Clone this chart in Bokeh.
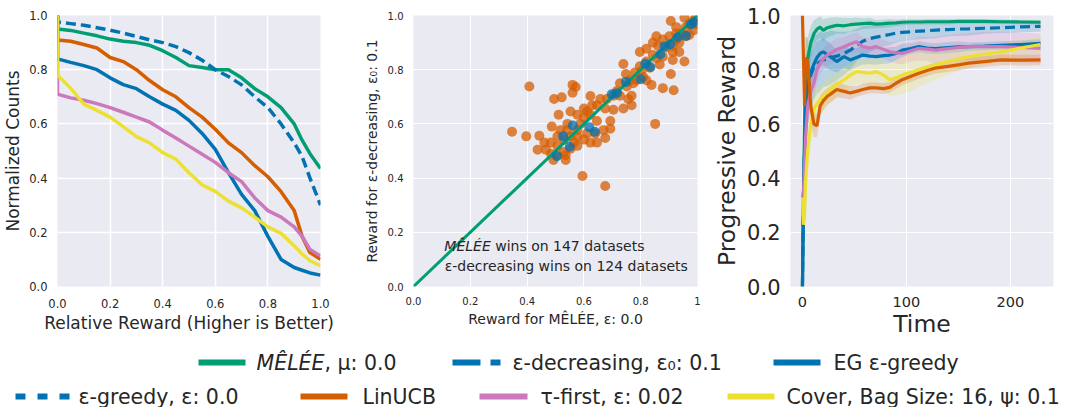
from bokeh.plotting import figure
from bokeh.layouts import column, row
from bokeh.models import FixedTicker, PrintfTickFormatter, Label, Range1d
from bokeh.embed import file_html
from bokeh.resources import INLINE

GREEN = "#029e73"; BLUE = "#0173b2"; ORANGE = "#d55e00"; PINK = "#cc78bc"; YELLOW = "#ece133"
BG = "#eaeaf2"; TXT = "#262626"; FONT = "DejaVu Sans"

# ---------------- Panel 1 data: normalized counts vs relative reward ----------------
rel_reward = [0.0, 0.0, 0.05, 0.1, 0.15, 0.2, 0.25, 0.3, 0.35, 0.4, 0.45, 0.5, 0.55,
              0.6, 0.65, 0.7, 0.75, 0.8, 0.85, 0.9, 0.93, 0.96, 1.0]
cnt_melee = [1.0, 0.95, 0.945, 0.935, 0.925, 0.913, 0.905, 0.90, 0.89, 0.87, 0.845, 0.815, 0.808,
             0.80, 0.80, 0.77, 0.73, 0.70, 0.66, 0.60, 0.54, 0.49, 0.435]
cnt_decr = [1.0, 0.976, 0.97, 0.964, 0.955, 0.946, 0.935, 0.923, 0.91, 0.90, 0.885, 0.863, 0.835,
            0.80, 0.775, 0.744, 0.70, 0.66, 0.60, 0.53, 0.48, 0.40, 0.30]
cnt_linucb = [1.0, 0.91, 0.905, 0.893, 0.88, 0.845, 0.83, 0.80, 0.76, 0.726, 0.70, 0.66, 0.625,
              0.58, 0.53, 0.494, 0.446, 0.405, 0.35, 0.28, 0.185, 0.125, 0.10]
cnt_eg = [1.0, 0.84, 0.827, 0.815, 0.80, 0.77, 0.745, 0.73, 0.70, 0.673, 0.65, 0.613, 0.565,
          0.506, 0.42, 0.34, 0.28, 0.185, 0.10, 0.07, 0.06, 0.05, 0.042]
cnt_tau = [1.0, 0.71, 0.696, 0.687, 0.675, 0.66, 0.643, 0.625, 0.607, 0.577, 0.548, 0.518, 0.488,
           0.458, 0.42, 0.387, 0.327, 0.28, 0.256, 0.22, 0.185, 0.137, 0.113]
cnt_cover = [1.0, 0.78, 0.732, 0.673, 0.65, 0.625, 0.59, 0.553, 0.53, 0.494, 0.47, 0.42, 0.375,
             0.351, 0.315, 0.29, 0.256, 0.22, 0.196, 0.15, 0.12, 0.095, 0.077]

# ---------------- Panel 2 data: per-dataset rewards ----------------
orange_x = [0.408, 0.347, 0.397, 0.443, 0.437, 0.466, 0.487, 0.495, 0.522, 0.511, 0.493, 0.536, 0.536,
            0.560, 0.571, 0.560, 0.595, 0.675, 0.851, 0.739, 0.748, 0.768, 0.768, 0.704, 0.739, 0.681,
            0.675, 0.693, 0.693, 0.669, 0.675, 0.623, 0.629, 0.611, 0.878, 0.916, 0.906, 0.913, 0.954,
            0.855, 0.906, 0.936, 0.803, 0.838, 0.785, 0.809, 0.832, 0.867, 0.878, 0.890, 0.925, 0.942,
            0.959, 0.983, 0.994, 0.988, 0.971, 0.925, 0.913, 0.861, 0.843, 0.820, 0.797, 0.780, 0.762,
            0.751, 0.727, 0.716, 0.704, 0.727, 0.756, 0.658, 0.646, 0.623, 0.600, 0.588, 0.577, 0.553,
            0.565, 0.577, 0.600, 0.623, 0.640, 0.611, 0.530, 0.507, 0.518, 0.542, 0.553, 0.577, 0.600,
            0.646, 0.646, 0.507, 0.530, 0.553, 0.577, 0.542, 0.484, 0.461, 0.484, 0.507, 0.797, 0.820,
            0.843, 0.878, 0.901, 0.925, 0.959, 0.971, 0.954, 0.994, 0.820, 0.774, 0.855, 0.936, 0.913]
orange_y = [0.738, 0.571, 0.554, 0.556, 0.505, 0.505, 0.590, 0.692, 0.698, 0.634, 0.467, 0.467, 0.484,
            0.744, 0.736, 0.715, 0.408, 0.371, 0.600, 0.821, 0.784, 0.704, 0.669, 0.652, 0.657, 0.692,
            0.657, 0.611, 0.582, 0.577, 0.548, 0.703, 0.669, 0.646, 0.732, 0.724, 0.784, 0.836, 0.830,
            0.923, 0.980, 0.865, 0.796, 0.744, 0.761, 0.773, 0.807, 0.819, 0.848, 0.882, 0.911, 0.934,
            0.957, 0.980, 0.969, 0.946, 0.928, 0.957, 0.888, 0.888, 0.854, 0.830, 0.813, 0.790, 0.761,
            0.738, 0.750, 0.721, 0.704, 0.704, 0.692, 0.692, 0.669, 0.634, 0.623, 0.600, 0.577, 0.554,
            0.531, 0.519, 0.542, 0.531, 0.565, 0.565, 0.542, 0.554, 0.577, 0.600, 0.646, 0.634, 0.657,
            0.611, 0.531, 0.519, 0.496, 0.508, 0.554, 0.577, 0.531, 0.531, 0.490, 0.484, 0.865, 0.877,
            0.900, 0.911, 0.923, 0.934, 0.923, 0.969, 0.992, 0.992, 0.761, 0.750, 0.842, 0.900, 0.865]
blue_x = [0.505, 0.527, 0.550, 0.561, 0.619, 0.638, 0.698, 0.716, 0.748, 0.800, 0.816, 0.834,
          0.869, 0.884, 0.904, 0.930, 0.959, 0.977, 0.988]
blue_y = [0.481, 0.554, 0.516, 0.594, 0.588, 0.571, 0.709, 0.713, 0.755, 0.765, 0.822, 0.810,
          0.856, 0.886, 0.894, 0.920, 0.925, 0.967, 0.975]
diag = [0.0, 1.0]

# ---------------- Panel 3 data: progressive reward over time ----------------
time = [0, 1, 2, 3, 5, 8, 11, 14, 17, 20, 24, 27, 33, 40, 46, 52, 58, 65, 71, 78, 84, 90, 96,
        104, 112, 120, 128, 140, 150, 160, 175, 191, 210, 229]
pr_melee = [0.0, 0.34, 0.6, 0.84, 0.84, 0.9, 0.933, 0.95, 0.957, 0.945, 0.955, 0.958, 0.964, 0.962,
            0.966, 0.968, 0.97, 0.972, 0.968, 0.97, 0.972, 0.973, 0.975, 0.976, 0.976, 0.977, 0.977,
            0.977, 0.978, 0.978, 0.978, 0.977, 0.976, 0.975]
pr_decr = [0.0, 0.33, 0.5, 0.6, 0.72, 0.78, 0.81, 0.82, 0.83, 0.836, 0.84, 0.845, 0.85, 0.86,
           0.872, 0.89, 0.905, 0.915, 0.92, 0.925, 0.93, 0.935, 0.938, 0.94, 0.942, 0.944, 0.946,
           0.948, 0.95, 0.951, 0.953, 0.955, 0.958, 0.96]
pr_eg = [0.0, 0.34, 0.5, 0.65, 0.75, 0.79, 0.82, 0.845, 0.86, 0.866, 0.855, 0.848, 0.83, 0.848,
         0.836, 0.845, 0.854, 0.85, 0.848, 0.852, 0.854, 0.86, 0.872, 0.878, 0.885, 0.88, 0.878,
         0.882, 0.884, 0.885, 0.887, 0.89, 0.893, 0.897]
pr_tau = [0.33, 0.35, 0.45, 0.55, 0.666, 0.72, 0.75, 0.8, 0.824, 0.84, 0.855, 0.86, 0.875, 0.885,
          0.895, 0.903, 0.885, 0.88, 0.885, 0.875, 0.866, 0.862, 0.86, 0.87, 0.879, 0.876, 0.872,
          0.878, 0.882, 0.885, 0.885, 0.885, 0.882, 0.879]
pr_cover = [0.33, 0.228, 0.26, 0.386, 0.5, 0.6, 0.654, 0.675, 0.69, 0.7, 0.715, 0.727, 0.745, 0.763,
            0.78, 0.793, 0.79, 0.787, 0.793, 0.78, 0.763, 0.77, 0.781, 0.79, 0.80, 0.81, 0.818,
            0.83, 0.84, 0.848, 0.857, 0.866, 0.88, 0.893]
pr_linucb = [1.0, 0.84, 0.666, 0.84, 0.836, 0.666, 0.6, 0.593, 0.666, 0.685, 0.702, 0.71, 0.727,
             0.72, 0.714, 0.72, 0.727, 0.733, 0.733, 0.73, 0.735, 0.75, 0.763, 0.775, 0.787, 0.797,
             0.806, 0.812, 0.818, 0.824, 0.83, 0.836, 0.835, 0.836]
sd_melee = [0, 0.1, 0.1, 0.08, 0.08, 0.06, 0.05, 0.04, 0.04, 0.04, 0.035, 0.035, 0.03, 0.03, 0.025,
            0.025, 0.02, 0.02, 0.015, 0.015, 0.015, 0.012, 0.012, 0.01, 0.01, 0.01, 0.01, 0.01,
            0.008, 0.008, 0.008, 0.008, 0.008, 0.008]
sd_decr = [0, 0.15, 0.15, 0.15, 0.12, 0.12, 0.12, 0.11, 0.11, 0.1, 0.1, 0.1, 0.09, 0.08, 0.07, 0.06,
           0.055, 0.05, 0.045, 0.04, 0.04, 0.035, 0.035, 0.03, 0.03, 0.03, 0.03, 0.025, 0.025, 0.025,
           0.02, 0.02, 0.02, 0.02]
sd_eg = [0, 0.15, 0.12, 0.1, 0.08, 0.07, 0.06, 0.06, 0.05, 0.05, 0.05, 0.05, 0.04, 0.04, 0.04, 0.035,
         0.035, 0.03, 0.03, 0.03, 0.03, 0.025, 0.025, 0.02, 0.02, 0.02, 0.02, 0.02, 0.02, 0.015,
         0.015, 0.015, 0.015, 0.015]
sd_tau = [0, 0.1, 0.1, 0.1, 0.08, 0.06, 0.05, 0.05, 0.04, 0.04, 0.04, 0.04, 0.04, 0.035, 0.035, 0.035,
          0.035, 0.035, 0.035, 0.035, 0.035, 0.04, 0.04, 0.04, 0.045, 0.045, 0.05, 0.05, 0.05, 0.05,
          0.055, 0.055, 0.055, 0.055]
sd_cover = [0, 0.1, 0.1, 0.1, 0.1, 0.08, 0.07, 0.06, 0.05, 0.05, 0.05, 0.05, 0.045, 0.045, 0.045,
            0.045, 0.045, 0.05, 0.05, 0.055, 0.06, 0.065, 0.07, 0.07, 0.065, 0.06, 0.055, 0.05,
            0.045, 0.04, 0.035, 0.03, 0.03, 0.03]
sd_linucb = [0, 0.15, 0.1, 0.08, 0.08, 0.06, 0.05, 0.04, 0.04, 0.035, 0.03, 0.03, 0.03, 0.025, 0.025,
             0.02, 0.02, 0.02, 0.02, 0.02, 0.02, 0.02, 0.02, 0.02, 0.02, 0.02, 0.02, 0.02, 0.02,
             0.02, 0.02, 0.02, 0.02, 0.02]

unit_ticks = [0, 0.2, 0.4, 0.6, 0.8, 1]
time_ticks = [0, 100, 200]


def style(p, tick_px, label_px, grid_w):
    p.background_fill_color = BG
    p.border_fill_color = "white"
    p.outline_line_color = None
    for ax in (p.xaxis, p.yaxis):
        ax.axis_line_color = None
        ax.major_tick_line_color = None
        ax.minor_tick_line_color = None
        ax.major_label_text_font = FONT
        ax.major_label_text_font_size = tick_px
        ax.major_label_text_color = TXT
        ax.axis_label_text_font = FONT
        ax.axis_label_text_font_size = label_px
        ax.axis_label_text_font_style = "normal"
        ax.axis_label_text_color = TXT
        ax.major_label_standoff = 4
        ax.axis_label_standoff = 3
    p.grid.grid_line_color = "white"
    p.grid.grid_line_width = grid_w


TOP_H = 340

# ---------- Panel 1 ----------
p1 = figure(width=360, height=TOP_H, x_range=Range1d(0, 1), y_range=Range1d(0, 1),
            output_backend="svg", toolbar_location=None,
            min_border_left=57, min_border_right=40, min_border_top=15, min_border_bottom=45)
style(p1, "11.5px", "17px", 1.5)
p1.xaxis.ticker = FixedTicker(ticks=unit_ticks)
p1.yaxis.ticker = FixedTicker(ticks=unit_ticks)
p1.xaxis.formatter = PrintfTickFormatter(format="%.1f")
p1.yaxis.formatter = PrintfTickFormatter(format="%.1f")
p1.xaxis.axis_label = "Relative Reward (Higher is Better)"
p1.yaxis.axis_label = "Normalized Counts"
p1.xaxis.major_label_standoff = 6
p1.xaxis.axis_label_standoff = 2
for ys, col, dash in [(cnt_melee, GREEN, "solid"), (cnt_decr, BLUE, "10 5"), (cnt_linucb, ORANGE, "solid"),
                      (cnt_eg, BLUE, "solid"), (cnt_tau, PINK, "solid"), (cnt_cover, YELLOW, "solid")]:
    p1.line(rel_reward, ys, line_color=col, line_width=3.5, line_dash=dash)

# ---------- Panel 2 ----------
p2 = figure(width=350, height=TOP_H, x_range=Range1d(0, 1), y_range=Range1d(0, 1),
            output_backend="svg", toolbar_location=None,
            min_border_left=49, min_border_right=13, min_border_top=11, min_border_bottom=40)
style(p2, "10px", "14px", 1.0)
p2.xaxis.ticker = FixedTicker(ticks=unit_ticks)
p2.yaxis.ticker = FixedTicker(ticks=unit_ticks)
p2.xaxis.formatter = PrintfTickFormatter(format="%.1f")
p2.yaxis.formatter = PrintfTickFormatter(format="%.1f")
p2.xaxis.major_label_overrides = {1: "1"}
p2.xaxis.axis_label = "Reward for MÊLÉE, ε: 0.0"
p2.yaxis.axis_label = "Reward for ε-decreasing, ε₀: 0.1"
p2.yaxis.axis_label_standoff = 5
p2.scatter(orange_x, orange_y, size=10, fill_color=ORANGE, fill_alpha=0.75, line_color=None)
p2.line(diag, diag, line_color=GREEN, line_width=3)
p2.scatter(blue_x, blue_y, size=10, fill_color=BLUE, fill_alpha=0.75, line_color=None)
p2.add_layout(Label(x=0.272, y=0.149, text="MÊLÉE", text_font=FONT, text_font_size="14px",
                    text_font_style="italic", text_align="right", text_baseline="middle", text_color=TXT))
p2.add_layout(Label(x=0.272, y=0.149, text="\u00a0wins on 147 datasets", text_font=FONT,
                    text_font_size="14px", text_align="left", text_baseline="middle", text_color=TXT))
p2.add_layout(Label(x=0.11, y=0.076, text="ε-decreasing wins on 124 datasets", text_font=FONT,
                    text_font_size="14px", text_align="left", text_baseline="middle", text_color=TXT))

# ---------- Panel 3 ----------
p3 = figure(width=362, height=TOP_H, x_range=Range1d(-11.5, 241.5), y_range=Range1d(0, 1),
            output_backend="svg", toolbar_location=None,
            min_border_left=77, min_border_right=19, min_border_top=15, min_border_bottom=51)
style(p3, "21px", "23.5px", 1.0)
p3.xaxis.major_label_text_font_size = "14.5px"
p3.xaxis.ticker = FixedTicker(ticks=time_ticks)
p3.yaxis.ticker = FixedTicker(ticks=unit_ticks)
p3.yaxis.formatter = PrintfTickFormatter(format="%.1f")
p3.xaxis.axis_label = "Time"
p3.yaxis.axis_label = "Progressive Reward"
p3.xaxis.major_label_standoff = 4
p3.xaxis.axis_label_standoff = 0
series3 = [(pr_melee, sd_melee, GREEN, "solid"), (pr_decr, sd_decr, BLUE, "10 5"),
           (pr_eg, sd_eg, BLUE, "solid"), (pr_tau, sd_tau, PINK, "solid"),
           (pr_cover, sd_cover, YELLOW, "solid"), (pr_linucb, sd_linucb, ORANGE, "solid")]
for ys, sd, col, dash in series3:
    lo = [max(0.0, y - s) for y, s in zip(ys, sd)]
    hi = [y + s for y, s in zip(ys, sd)]
    p3.varea(x=time, y1=lo, y2=hi, fill_color=col, fill_alpha=0.2)
for ys, sd, col, dash in series3:
    p3.line(time, ys, line_color=col, line_width=3.2, line_dash=dash)

# ---------- Legend ----------
LEG_W, LEG_H = 1072, 67
leg = figure(width=LEG_W, height=LEG_H, x_range=Range1d(0, LEG_W), y_range=Range1d(LEG_H, 0),
             output_backend="svg", toolbar_location=None, min_border=0)
leg.axis.visible = False
leg.grid.visible = False
leg.outline_line_color = None
leg.background_fill_color = "white"
leg.border_fill_color = "white"

ROW1, ROW2 = 22, 56
LEG_FONT = "20.5px"
legend_items = [
    # (x0, x1, row, color, dash, text_x, italic_part, text)
    (198, 245, ROW1, GREEN, "solid", 258, "MÊLÉE", ", μ: 0.0"),
    (452, 500, ROW1, BLUE, "28 10", 512, "", "ε-decreasing, ε₀: 0.1"),
    (773, 820, ROW1, BLUE, "solid", 833, "", "EG ε-greedy"),
    (15, 70, ROW2, BLUE, "10 12", 78, "", "ε-greedy, ε: 0.0"),
    (300, 347, ROW2, ORANGE, "solid", 362, "", "LinUCB"),
    (479, 527, ROW2, PINK, "solid", 540, "", "τ-first, ε: 0.02"),
    (727, 774, ROW2, YELLOW, "solid", 786, "", "Cover, Bag Size: 16, ψ: 0.1"),
]
for x0, x1, yy, col, dash, tx, ital, txt in legend_items:
    leg.line([x0, x1], [yy, yy], line_color=col, line_width=6, line_dash=dash, line_cap="butt")
    start = tx
    if ital:
        split = tx + 66
        leg.add_layout(Label(x=split, y=yy, text=ital, text_font=FONT, text_font_size=LEG_FONT,
                             text_font_style="italic", text_align="right", text_baseline="middle",
                             text_color=TXT))
        start = split
    leg.add_layout(Label(x=start, y=yy, text=txt, text_font=FONT, text_font_size=LEG_FONT,
                         text_align="left", text_baseline="middle", text_color=TXT))

layout = column(row(p1, p2, p3), leg)
open("out.html", "w").write(file_html(layout, INLINE))
